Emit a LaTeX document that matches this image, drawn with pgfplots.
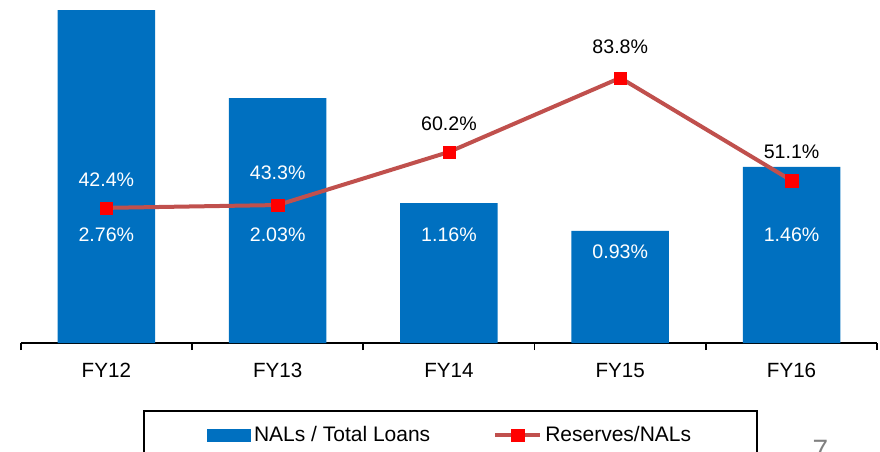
\documentclass[border=0pt]{standalone}
\usepackage{fontspec}
\setmainfont{Liberation Sans}
\usepackage{pgfplots}
\pgfplotsset{compat=1.18}
\definecolor{barblue}{RGB}{0,112,192}
\definecolor{linered}{RGB}{192,80,77}
\definecolor{pagegray}{RGB}{128,128,128}
\begin{document}
\begin{tikzpicture}
\useasboundingbox (0pt,0pt) rectangle (440pt,225.5pt);
\begin{axis}[
  at={(10.35pt,54pt)}, anchor=south west,
  width=428.25pt, height=171.5pt, scale only axis,
  xmin=-0.5, xmax=4.5, ymin=0, ymax=2.843,
  axis x line*=bottom, axis y line=none,
  axis line style={black, line width=1pt},
  tick align=outside,
  xtick={0,1,2,3,4},
  xticklabels={FY12,FY13,FY14,FY15,FY16},
  major tick length=0pt,
  extra x ticks={-0.5,0.5,1.5,2.5,3.5,4.5},
  extra x tick labels={},
  extra x tick style={major tick length=3.5pt, tick style={black, line width=0.9pt}},
  xticklabel style={font=\fontsize{10.3}{12}\selectfont, anchor=base, yshift=-17.2pt},
  clip=false,
]
\addplot[ybar, bar width=48.75pt, bar shift=0pt, fill=barblue, draw=none]
  coordinates {(0,2.76) (1,2.03) (2,1.16) (3,0.93) (4,1.46)};
\node[text=white, font=\fontsize{9.8}{11}\selectfont] at (axis cs:0,0.895) {2.76\%};
\node[text=white, font=\fontsize{9.8}{11}\selectfont] at (axis cs:1,0.895) {2.03\%};
\node[text=white, font=\fontsize{9.8}{11}\selectfont] at (axis cs:2,0.895) {1.16\%};
\node[text=white, font=\fontsize{9.8}{11}\selectfont] at (axis cs:3,0.757) {0.93\%};
\node[text=white, font=\fontsize{9.8}{11}\selectfont] at (axis cs:4,0.895) {1.46\%};
\end{axis}
\begin{axis}[
  at={(10.35pt,54pt)}, anchor=south west,
  width=428.25pt, height=171.5pt, scale only axis,
  xmin=-0.5, xmax=4.5, ymin=-0.637, ymax=108.6,
  hide axis, clip=false,
  legend columns=2,
  legend cell align=left,
  legend style={at={(0.1428,-0.1953)}, anchor=north west, draw=black, line width=1pt,
    inner xsep=31.5pt, inner ysep=5.5pt,
    nodes={inner xsep=1.5pt},
    font=\fontsize{10.5}{12.5}\selectfont,
    /tikz/every even column/.append style={column sep=30pt}},
]
\addlegendimage{legend image code/.code={\fill[barblue] (0pt,-2.75pt) rectangle (21pt,2.75pt);}}
\addlegendentry{NALs / Total Loans}
\addplot[color=linered, line width=2pt, mark=square*, mark size=3.1pt,
  mark options={fill=red, draw=red, line width=0.1pt},
  legend image code/.code={\draw[mark repeat=2, mark phase=2] plot coordinates {(0pt,0pt) (11.25pt,0pt) (22.5pt,0pt)};}]
  coordinates {(0,42.4) (1,43.3) (2,60.2) (3,83.8) (4,51.1)};
\addlegendentry{Reserves/NALs}
\node[text=white, font=\fontsize{9.8}{11}\selectfont] at (axis cs:0,51.3) {42.4\%};
\node[text=white, font=\fontsize{9.8}{11}\selectfont] at (axis cs:1,53.6) {43.3\%};
\node[text=black, font=\fontsize{9.8}{11}\selectfont] at (axis cs:2,69.3) {60.2\%};
\node[text=black, font=\fontsize{9.8}{11}\selectfont] at (axis cs:3,93.6) {83.8\%};
\node[text=black, font=\fontsize{9.8}{11}\selectfont] at (axis cs:4,60.2) {51.1\%};
\end{axis}
\node[text=pagegray, font=\fontsize{14}{16}\selectfont, anchor=north, inner sep=0pt] at (410.25pt,5.5pt) {7};
\end{tikzpicture}
\end{document}
